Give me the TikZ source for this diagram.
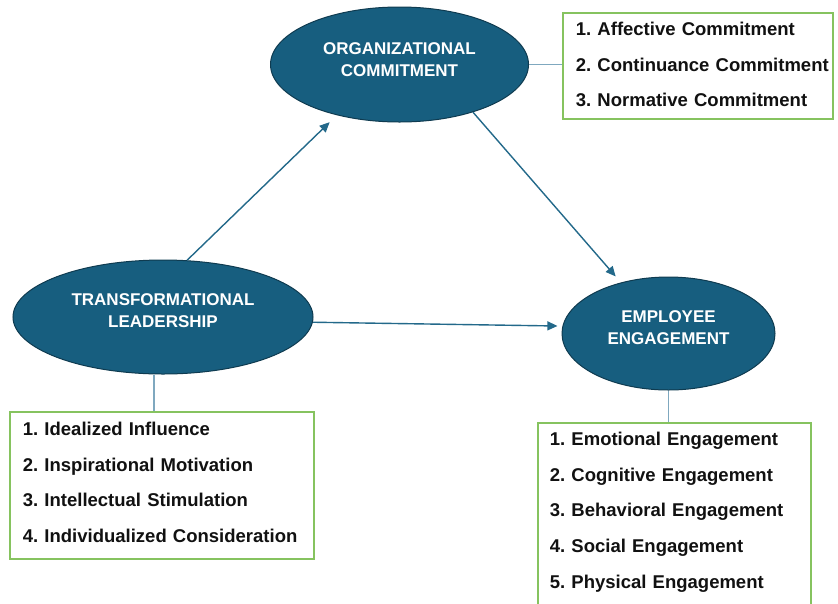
\documentclass[tikz,border=0pt]{standalone}
\usepackage{fontspec}
\setmainfont{Liberation Sans}
\usetikzlibrary{arrows.meta,calc,shapes.geometric}

\definecolor{nodefill}{HTML}{175E7F}
\definecolor{nodeedge}{HTML}{0F3B50}
\definecolor{arrowblue}{HTML}{23698A}
\definecolor{linkblue}{HTML}{7FA8BF}
\definecolor{boxgreen}{HTML}{86C35F}
\definecolor{listtext}{HTML}{111111}

\begin{document}
\begin{tikzpicture}[x=1pt,y=-1pt,
  construct/.style={ellipse, draw=nodeedge, line width=1pt, fill=nodefill,
    text=white, inner sep=0pt, align=center,
    font=\fontsize{17}{22}\selectfont\bfseries, text height=10pt},
  dimbox/.style={rectangle, draw=boxgreen, line width=1.8pt, fill=white,
    inner sep=0pt, anchor=north west, align=left, text=listtext,
    font=\fontsize{18.5}{35.7}\selectfont\bfseries\frenchspacing, text height=22.6pt},
  causal/.style={draw=arrowblue, line width=1.4pt,
    -{Triangle[length=10pt,width=9pt]}},
  link/.style={draw=linkblue, line width=1.4pt}]

\useasboundingbox (0,0) rectangle (838,603);

% constructs
\node[construct, minimum width=258pt, minimum height=115pt, text width=175pt,
  text depth=31pt] (oc) at (399.5,64.5) {ORGANIZATIONAL\\COMMITMENT};
\node[construct, minimum width=300pt, minimum height=114pt, text width=205pt,
  text depth=34pt] (tl) at (163,317) {TRANSFORMATIONAL\\LEADERSHIP};
\node[construct, minimum width=213pt, minimum height=113pt, text width=145pt,
  text depth=32pt] (ee) at (668.5,333.5) {EMPLOYEE\\ENGAGEMENT};

% dimension lists
\node[dimbox, text width=270pt, text depth=83.4pt] (obox) at (562,12)
  {\leftskip=13pt\relax 1. Affective Commitment\\2. Continuance Commitment\\3. Normative Commitment\par};
\node[dimbox, text width=304pt, text depth=123.4pt, text height=23.6pt] (tlbox) at (9,411)
  {\leftskip=13pt\relax 1. Idealized Influence\\2. Inspirational Motivation\\3. Intellectual Stimulation\\4. Individualized Consideration\par};
\node[dimbox, text width=273pt, text depth=200pt] (eebox) at (537,422)
  {\leftskip=12pt\relax 1. Emotional Engagement\\2. Cognitive Engagement\\3. Behavioral Engagement\\4. Social Engagement\\5. Physical Engagement\par};

% links from constructs to their lists
\draw[link] (oc.east) -- (oc.east -| obox.west);
\draw[link] ([xshift=-9pt]tl.south) -- ([xshift=-9pt]tl.south |- tlbox.north);
\draw[link] (ee.south) -- (ee.south |- eebox.north);

% hypothesised paths
\draw[causal, shorten >=10pt] (tl.67) -- (oc.219);
\draw[causal, shorten >=8pt] (oc.-33) -- (ee.133);
\draw[causal, shorten >=5pt] (tl.-2) -- (ee.176);
\end{tikzpicture}
\end{document}
